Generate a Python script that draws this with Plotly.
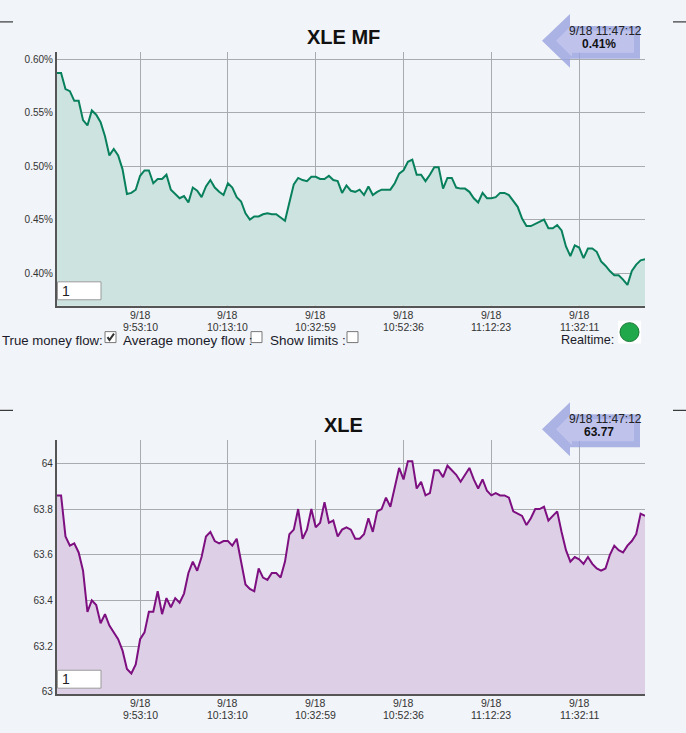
import plotly.graph_objects as go

FONT = 'Liberation Sans, Arial, sans-serif'
W, H = 686, 733

# one sample per minute (approx.), tick every 20 samples
sample = list(range(135))
tick_idx = [19, 39, 59, 79, 99, 119]
tick_date = ['9/18'] * 6
tick_time = ['9:53:10', '10:13:10', '10:32:59', '10:52:36', '11:12:23', '11:32:11']

# money flow, %
mf_pct = [
    0.587, 0.587, 0.572, 0.570, 0.561, 0.561, 0.543, 0.538, 0.552, 0.548,
    0.541, 0.528, 0.510, 0.516, 0.510, 0.497, 0.474, 0.475, 0.478, 0.491,
    0.496, 0.496, 0.484, 0.488, 0.488, 0.492, 0.478, 0.474, 0.470, 0.472,
    0.466, 0.480, 0.477, 0.471, 0.481, 0.487, 0.480, 0.476, 0.473,
    0.484, 0.480, 0.471, 0.467, 0.456, 0.450, 0.453, 0.453, 0.455, 0.456,
    0.455, 0.455, 0.452, 0.449, 0.466, 0.483, 0.489, 0.487, 0.486, 0.490,
    0.490, 0.488, 0.488, 0.491, 0.487, 0.486, 0.475, 0.482, 0.477, 0.476,
    0.478, 0.473, 0.481, 0.473, 0.476, 0.478, 0.478, 0.478, 0.484, 0.493,
    0.496, 0.504, 0.506, 0.492, 0.492, 0.486, 0.492, 0.499, 0.499, 0.479,
    0.489, 0.489,
    0.480, 0.479, 0.479, 0.476, 0.470, 0.466, 0.475, 0.470, 0.470, 0.471,
    0.475, 0.475, 0.473, 0.468, 0.462, 0.451, 0.444, 0.444, 0.446, 0.448,
    0.450, 0.442, 0.442, 0.445, 0.440, 0.425, 0.416, 0.426, 0.424, 0.414,
    0.423, 0.423, 0.420, 0.411, 0.407, 0.402, 0.398, 0.398, 0.394, 0.389,
    0.402, 0.408, 0.412, 0.413,
]

# XLE price
xle_price = [
    63.86, 63.86, 63.68, 63.64, 63.65, 63.61, 63.53, 63.35, 63.40, 63.38,
    63.30, 63.34, 63.29, 63.26, 63.23, 63.18, 63.10, 63.08, 63.12, 63.23,
    63.26, 63.35, 63.35, 63.44, 63.34, 63.41, 63.37, 63.41, 63.39, 63.43,
    63.52, 63.57, 63.53, 63.59, 63.68, 63.70, 63.66, 63.65, 63.66, 63.66,
    63.64, 63.67,
    63.57, 63.47, 63.45, 63.44, 63.54, 63.50, 63.49, 63.52, 63.52, 63.50,
    63.57, 63.69, 63.71, 63.80, 63.67, 63.71, 63.80, 63.72, 63.74, 63.83,
    63.74, 63.75, 63.68, 63.71, 63.72, 63.71, 63.67, 63.67, 63.69, 63.76,
    63.70, 63.79, 63.80, 63.85, 63.81, 63.89, 63.98, 63.93, 64.01, 64.01,
    63.89, 63.92, 63.86, 63.87, 63.97, 63.97, 63.94, 63.99, 63.97, 63.95,
    63.92, 63.95, 63.98,
    63.93, 63.89, 63.93, 63.88, 63.86, 63.87, 63.86, 63.86, 63.85, 63.79,
    63.78, 63.77, 63.73, 63.76, 63.80, 63.80, 63.81, 63.75, 63.77, 63.79,
    63.70, 63.62, 63.57, 63.59, 63.58, 63.56, 63.59, 63.56, 63.54, 63.53,
    63.54, 63.60, 63.64, 63.62, 63.61, 63.64, 63.66, 63.69, 63.78, 63.77,
]

mf_ticks = [0.40, 0.45, 0.50, 0.55, 0.60]
mf_ticklabels = ['0.40%', '0.45%', '0.50%', '0.55%', '0.60%']
xle_ticks = [63, 63.2, 63.4, 63.6, 63.8, 64]
xle_ticklabels = ['63', '63.2', '63.4', '63.6', '63.8', '64']

last_time = '9/18 11:47:12'

BG = '#f1f4f8'
GRID = '#a9abae'


def px(x):
    return x / W


def py(y):
    return 1 - y / H


def note(fig, x, y, text, size, color='#222', xanchor='center', xref='paper'):
    fig.add_annotation(x=px(x) if xref == 'paper' else x, y=py(y), xref=xref,
                       yref='paper', text=text, showarrow=False, xanchor=xanchor,
                       yanchor='middle', font=dict(size=size, color=color, family=FONT))


def panel(fig, n, y_off, title, values, color, fill, yrange, yticks, ylabels, badge):
    xa = 'xaxis' if n == 1 else f'xaxis{n}'
    ya = 'yaxis' if n == 1 else f'yaxis{n}'
    xr = 'x' if n == 1 else f'x{n}'
    yr = 'y' if n == 1 else f'y{n}'
    fig.add_trace(go.Scatter(x=sample, y=values, mode='lines', xaxis=xr, yaxis=yr,
                             line=dict(color=color, width=2), fill='tozeroy',
                             fillcolor=fill, showlegend=False, hoverinfo='skip'))
    fig.update_layout({
        xa: dict(domain=[px(56.7), px(645)], range=[0, len(values) - 1], anchor=yr,
                 tickmode='array', tickvals=tick_idx, showticklabels=False,
                 showgrid=True, gridcolor=GRID, gridwidth=1, showline=True,
                 linecolor='#555', linewidth=1.5, zeroline=False, ticks=''),
        ya: dict(domain=[py(307 + y_off), py(52 + y_off)], range=yrange, anchor=xr,
                 tickmode='array', tickvals=yticks, ticktext=ylabels,
                 showgrid=True, gridcolor=GRID, gridwidth=1, showline=True,
                 linecolor='#555', linewidth=1.5, zeroline=False, ticks='',
                 tickfont=dict(size=10, color='#333', family=FONT)),
    })
    # two-line x tick labels (date / time of day), placed on the x scale
    for xi, d, t in zip(tick_idx, tick_date, tick_time):
        note(fig, xi, 316 + y_off, d, 10.5, '#333', 'center', xref=xr)
        note(fig, xi, 328 + y_off, t, 10.5, '#333', 'center', xref=xr)
    note(fig, 343, 37 + y_off, f'<b>{title}</b>', 20, '#111')
    # small "1" input box
    fig.add_shape(type='rect', xref='paper', yref='paper', layer='above',
                  x0=px(57.5), x1=px(101), y0=py(301 + y_off), y1=py(283 + y_off),
                  fillcolor='white', line=dict(color='#9a9a9a', width=1))
    note(fig, 60, 292 + y_off, '1', 14, '#222', 'left')
    # left-pointing badge with last value
    pts = [(542, 41), (570, 14), (570, 26), (640, 26), (640, 59), (570, 59), (570, 68)]
    path = 'M ' + ' L '.join(f'{px(a):.5f},{py(b + y_off):.5f}' for a, b in pts) + ' Z'
    fig.add_shape(type='path', path=path, xref='paper', yref='paper', layer='above',
                  fillcolor='#9aa3e0', opacity=0.8, line=dict(width=0))
    pts2 = [(556, 41), (572, 25), (572, 31), (634, 31), (634, 53), (572, 53), (572, 57)]
    path2 = 'M ' + ' L '.join(f'{px(a):.5f},{py(b + y_off):.5f}' for a, b in pts2) + ' Z'
    fig.add_shape(type='path', path=path2, xref='paper', yref='paper', layer='above',
                  fillcolor='#c8cbf0', opacity=0.7, line=dict(width=0))
    note(fig, 605, 31 + y_off, last_time, 12, '#222')
    note(fig, 599, 44 + y_off, f'<b>{badge}</b>', 12, '#111')
    # separator ticks at page edges
    for a, b in [(0, 13), (673, 686)]:
        fig.add_shape(type='line', xref='paper', yref='paper',
                      x0=px(a), x1=px(b), y0=py(22 + y_off), y1=py(22 + y_off),
                      line=dict(color='#111', width=1))


fig = go.Figure()
panel(fig, 1, 0, 'XLE MF', mf_pct, '#08805c', '#cde3e0',
      [0.3696, 0.6068], mf_ticks, mf_ticklabels, f'{mf_pct[-1]:.2f}%')
panel(fig, 2, 390, 'XLE', xle_price, '#7d0f80', '#ddd0e6',
      [62.9895, 64.1017], xle_ticks, xle_ticklabels, f'{xle_price[-1]:.2f}')

# controls row under the first chart
for x0, t, sz in [(0, 'True money flow:', 13.2), (121, 'Average money flow :', 13.5),
                  (268, 'Show limits :', 13.5), (559, 'Realtime:', 12.6)]:
    note(fig, x0, 341.5, t, sz, '#1a1a2a', 'left')
for x0, checked in [(105, True), (251, False), (347, False)]:
    fig.add_shape(type='rect', xref='paper', yref='paper',
                  x0=px(x0), x1=px(x0 + 11), y0=py(344), y1=py(333),
                  fillcolor='white', line=dict(color='#777', width=1))
    if checked:
        tick = [(x0 + 2.5, 338.5), (x0 + 4.5, 341.5), (x0 + 9, 335)]
        fig.add_shape(type='path', xref='paper', yref='paper',
                      path='M ' + ' L '.join(f'{px(a):.5f},{py(b):.5f}' for a, b in tick),
                      line=dict(color='#333', width=2))
fig.add_shape(type='rect', xref='paper', yref='paper', x0=px(618), x1=px(641),
              y0=py(345), y1=py(322), fillcolor='white', line=dict(width=0))
fig.add_shape(type='circle', xref='paper', yref='paper', x0=px(620), x1=px(639),
              y0=py(343), y1=py(324), fillcolor='#20a84a', line=dict(color='#1b7a36', width=1))

fig.update_layout(width=W, height=H, autosize=False, margin=dict(l=0, r=0, t=0, b=0),
                  paper_bgcolor=BG, plot_bgcolor=BG, font=dict(family=FONT),
                  showlegend=False)

fig.write_html('out.html', config={'displayModeBar': False},
               post_script="document.body.style.margin='0';")
